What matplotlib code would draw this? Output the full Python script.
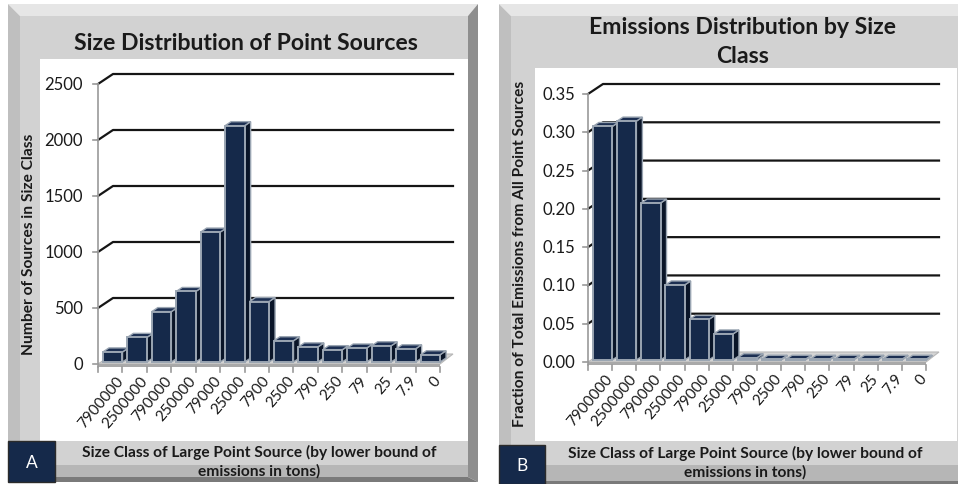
import matplotlib
matplotlib.use("Agg")
import matplotlib.pyplot as plt
from matplotlib.patches import Polygon, Rectangle
from matplotlib.transforms import IdentityTransform

plt.rcParams["font.family"] = ["Lato", "DejaVu Sans"]

# ---- data -------------------------------------------------------------
size_classes = ["7900000", "2500000", "790000", "250000", "79000", "25000",
                "7900", "2500", "790", "250", "79", "25", "7.9", "0"]
source_counts = [90, 220, 450, 630, 1160, 2110, 540, 190, 135, 110, 125, 145, 118, 65]
emission_fractions = [0.305, 0.312, 0.205, 0.098, 0.053, 0.034, 0.003,
                      0.001, 0.001, 0.001, 0.001, 0.001, 0.001, 0.001]
count_ticks = [0, 500, 1000, 1500, 2000, 2500]
fraction_ticks = [0.00, 0.05, 0.10, 0.15, 0.20, 0.25, 0.30, 0.35]

NAVY = "#15294a"
NAVY_SIDE = "#0a1528"
BAR_EDGE = "#9aa5b2"
TXT = "#1a1a1a"

W, H = 958, 485
fig = plt.figure(figsize=(W / 100, H / 100), dpi=100)
bg = fig.add_axes([0, 0, 1, 1])
bg.set_xlim(0, W)
bg.set_ylim(H, 0)
bg.axis("off")


def bevel_frame(x0, y0, x1, y1, bl, bt, br, bb, plot_box, band_top):
    """Grey bevelled picture frame with a white plotting area."""
    sides = [
        ([(x0, y0), (x1, y0), (x1 - br, y0 + bt), (x0 + bl, y0 + bt)], "#e6e6e6"),
        ([(x0, y0), (x0 + bl, y0 + bt), (x0 + bl, y1 - bb), (x0, y1)], "#bfbfbf"),
        ([(x1, y0), (x1, y1), (x1 - br, y1 - bb), (x1 - br, y0 + bt)], "#8e8e8e"),
        ([(x0, y1), (x0 + bl, y1 - bb), (x1 - br, y1 - bb), (x1, y1)], "#7a7a7a"),
    ]
    bg.add_patch(Rectangle((x0 + bl, y0 + bt), x1 - x0 - bl - br, y1 - y0 - bt - bb,
                           facecolor="#d2d2d2", edgecolor="none"))
    # darker lower part of the bottom band
    bg.add_patch(Rectangle((x0 + bl, band_top + 24), x1 - x0 - bl - br,
                           y1 - bb - band_top - 24, facecolor="#b6b6b6", edgecolor="none"))
    for pts, c in sides:
        bg.add_patch(Polygon(pts, closed=True, facecolor=c, edgecolor="none"))
    px0, py0, px1, py1 = plot_box
    bg.add_patch(Rectangle((px0, py0), px1 - px0, py1 - py0, facecolor="white",
                           edgecolor="none"))


def letter_box(x0, y0, x1, y1, letter):
    bg.add_patch(Rectangle((x0, y0), x1 - x0, y1 - y0, facecolor=NAVY,
                           edgecolor="#2b2b2b", linewidth=1))
    bg.text((x0 + x1) / 2, (y0 + y1) / 2 + 1, letter, color="white", fontsize=12.5,
            ha="center", va="center")


bevel_frame(8, 5, 478, 483, 12, 12, 10, 5, (40, 60, 468, 442), 442)
bevel_frame(499, 5, 972, 487, 12, 12, 10, 5, (535, 69, 957, 442), 442)
letter_box(8, 442, 55, 483, "A")
letter_box(499, 446, 545, 485, "B")

# ---- titles and axis labels -------------------------------------------
bg.text(246, 43, "Size Distribution of Point Sources", fontsize=16.6,
        fontweight="bold", ha="center", va="center", color=TXT)
bg.text(743, 42, "Emissions Distribution by Size\nClass", fontsize=16.6,
        fontweight="bold", ha="center", va="center", color=TXT,
        linespacing=1.5)
bg.text(29, 244, "Number of Sources in Size Class", fontsize=11.2,
        fontweight="bold", rotation=90, ha="center", va="center", color=TXT)
bg.text(520, 254, "Fraction of Total Emissions from All Point Sources", fontsize=11.2,
        fontweight="bold", rotation=90, ha="center", va="center", color=TXT)
xlabel = "Size Class of Large Point Source (by lower bound of\nemissions in tons)"
bg.text(259, 462, xlabel, fontsize=11.2, fontweight="bold", ha="center",
        va="center", color=TXT, linespacing=1.38)
bg.text(745, 463, xlabel, fontsize=11.2, fontweight="bold", ha="center",
        va="center", color=TXT, linespacing=1.38)


def px(ax, x, y, dx=0.0, dy=0.0):
    X, Y = ax.transData.transform((x, y))
    return (X + dx, Y + dy)


def draw_3d_columns(ax, values, ticks, tick_fmt, label_gap, wall=(15, 10),
                    depth=(6, 4), shift=(3, 2)):
    n = len(values)
    ax.set_xlim(0, n)
    ax.set_ylim(ticks[0], ticks[-1])
    ax.axis("off")
    ident = IdentityTransform()
    wx, wy = wall

    # back-wall gridlines with the oblique connector to the value axis
    for t in ticks[1:]:
        a = px(ax, 0, t)
        b = px(ax, 0, t, wx, wy)
        c = px(ax, n, t, wx - 2, wy)
        ax.add_line(plt.Line2D([a[0], b[0], c[0]], [a[1], b[1], c[1]],
                               color="#151515", lw=1.6, transform=ident,
                               clip_on=False, zorder=1))

    # floor slab
    f0, f1 = px(ax, 0, 0), px(ax, n, 0)
    floor_top = [f0, f1, px(ax, n, 0, wx - 2, wy), px(ax, 0, 0, wx, wy)]
    ax.add_patch(Polygon(floor_top, closed=True, facecolor="#d4d4d4",
                         edgecolor="#b8b8b8", lw=0.8, transform=ident,
                         clip_on=False, zorder=2))
    ax.add_patch(Polygon([f0, f1, (f1[0], f1[1] - 3), (f0[0], f0[1] - 3)],
                         closed=True, facecolor="#a9a9a9", edgecolor="none",
                         transform=ident, clip_on=False, zorder=2))

    # value axis line, ticks and labels
    ax.add_line(plt.Line2D([f0[0], f0[0]], [f0[1] - 3, px(ax, 0, ticks[-1])[1]],
                           color="#9a9a9a", lw=1.2, transform=ident, clip_on=False,
                           zorder=3))
    for t in ticks:
        p = px(ax, 0, t)
        ax.add_line(plt.Line2D([p[0] - 5, p[0]], [p[1], p[1]], color="#9a9a9a",
                               lw=1.2, transform=ident, clip_on=False, zorder=3))
        ax.text(p[0] - label_gap, p[1], tick_fmt(t), transform=ident, ha="right",
                va="center", fontsize=12, color=TXT)

    # category ticks and rotated labels
    for i in range(n + 1):
        p = px(ax, i, 0)
        ax.add_line(plt.Line2D([p[0], p[0]], [p[1] - 3, p[1] - 8], color="#9a9a9a",
                               lw=1.2, transform=ident, clip_on=False, zorder=3))
    for i, lab in enumerate(size_classes):
        p = px(ax, i + 0.5, 0)
        ax.text(p[0] + 5, p[1] - 9, lab, transform=ident, rotation=50,
                rotation_mode="anchor", ha="right", va="top", fontsize=11,
                color=TXT)

    # columns: front face, top and right side, drawn left to right
    sx, sy = shift
    dx, dy = depth
    for i, v in enumerate(values):
        x0, x1 = i + 0.08, i + 0.88
        fl, fr = px(ax, x0, 0, sx, sy), px(ax, x1, 0, sx, sy)
        tl, tr = px(ax, x0, v, sx, sy), px(ax, x1, v, sx, sy)
        z = 4 + i * 0.01
        side = [fr, tr, (tr[0] + dx, tr[1] + dy), (fr[0] + dx, fr[1] + dy)]
        top = [tl, tr, (tr[0] + dx, tr[1] + dy), (tl[0] + dx, tl[1] + dy)]
        front = [fl, fr, tr, tl]
        ax.add_patch(Polygon(side, closed=True, facecolor=NAVY_SIDE, edgecolor=BAR_EDGE,
                             lw=1.0, transform=ident, clip_on=False, zorder=z))
        ax.add_patch(Polygon(top, closed=True, facecolor="#1c2f52", edgecolor=BAR_EDGE,
                             lw=1.0, transform=ident, clip_on=False, zorder=z))
        ax.add_patch(Polygon(front, closed=True, facecolor=NAVY, edgecolor=BAR_EDGE,
                             lw=1.4, transform=ident, clip_on=False, zorder=z + 0.001))


# chart A: value axis at x=98px, 0 at y=365px, 2500 at y=85px
ax_a = fig.add_axes([98 / W, (H - 365) / H, 342 / W, 280 / H])
ax_a.patch.set_alpha(0)
draw_3d_columns(ax_a, source_counts, count_ticks, lambda t: f"{t:d}", 15)

# chart B: value axis at x=588px, 0 at y=363px, 0.35 at y=95px
ax_b = fig.add_axes([588 / W, (H - 363) / H, 338 / W, 268 / H])
ax_b.patch.set_alpha(0)
draw_3d_columns(ax_b, emission_fractions, fraction_ticks, lambda t: f"{t:.2f}", 13)

fig.savefig("out.png", dpi=100)
